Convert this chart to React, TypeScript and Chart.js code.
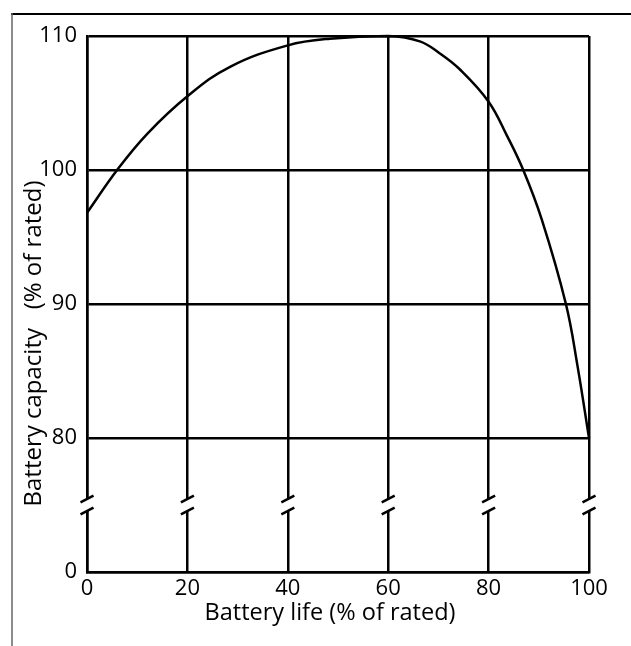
import React, { useEffect, useRef } from "react";
import { Chart, registerables } from "chart.js";

Chart.register(...registerables);

const lifePct = [0, 6, 12, 20, 28.5, 40, 48.4, 60, 66.3, 70.3, 74.3, 80, 83.6, 86.9, 90.6, 95.4, 97.7, 100];
const capacityPct = [96.8, 100, 102.7, 105.5, 107.7, 109.3, 109.8, 110, 109.6, 108.7, 107.5, 105.1, 102.6, 100, 96.3, 90, 85.4, 80];
const xTicks = [0, 20, 40, 60, 80, 100];
const yTicks = [70, 80, 90, 100, 110];
const yTickLabels = ["0", "80", "90", "100", "110"];
const breakValue = 75;
const xTitle = "Battery life (% of rated)";
const yTitle = "Battery capacity   (% of rated)";

const FONT = '"Open Sans", "Noto Sans", sans-serif';

const decorPlugin = {
  id: "decor",
  beforeDraw(chart: any) {
    const ctx = chart.ctx;
    ctx.save();
    ctx.strokeStyle = "#000";
    ctx.lineWidth = 2;
    ctx.beginPath();
    ctx.moveTo(11, 14);
    ctx.lineTo(631, 14);
    ctx.stroke();
    ctx.strokeStyle = "#666";
    ctx.lineWidth = 1.5;
    ctx.beginPath();
    ctx.moveTo(12, 13);
    ctx.lineTo(12, 646);
    ctx.stroke();
    ctx.restore();
  },
  afterDraw(chart: any) {
    const ctx = chart.ctx;
    const xs = chart.scales.x;
    const ys = chart.scales.y;
    const yc = ys.getPixelForValue(breakValue);
    ctx.save();
    for (const v of xTicks) {
      const px = xs.getPixelForValue(v);
      ctx.fillStyle = "#fff";
      ctx.fillRect(px - 2.5, yc - 6, 5, 12);
      ctx.strokeStyle = "#000";
      ctx.lineWidth = 2.5;
      ctx.lineCap = "butt";
      for (const off of [-6, 6]) {
        ctx.beginPath();
        ctx.moveTo(px - 6.5, yc + off + 3.4);
        ctx.lineTo(px + 6.5, yc + off - 3.4);
        ctx.stroke();
      }
    }
    ctx.fillStyle = "#000";
    ctx.textAlign = "center";
    ctx.textBaseline = "alphabetic";
    ctx.font = "23.5px " + FONT;
    ctx.fillText(xTitle, 330, 620);
    ctx.font = "24px " + FONT;
    ctx.translate(41, 343.5);
    ctx.rotate(-Math.PI / 2);
    ctx.fillText(yTitle, 0, 0);
    ctx.restore();
  },
};

export default function App() {
  const ref = useRef<HTMLCanvasElement>(null);
  useEffect(() => {
    if (!ref.current) return;
    const chart = new Chart(ref.current, {
      type: "line",
      data: {
        datasets: [
          {
            data: lifePct.map((x, i) => ({ x, y: capacityPct[i] })),
            borderColor: "#000",
            borderWidth: 2.5,
            pointRadius: 0,
            fill: false,
            tension: 0.4,
            clip: false as any,
          },
        ],
      },
      options: {
        responsive: false,
        animation: false,
        layout: { padding: { left: 0, top: 36, right: 42, bottom: 0 } },
        plugins: { legend: { display: false }, tooltip: { enabled: false } },
        scales: {
          x: {
            type: "linear",
            min: 0,
            max: 100,
            afterBuildTicks: (s: any) => {
              s.ticks = xTicks.map((v) => ({ value: v }));
            },
            afterFit: (s: any) => {
              s.height = 74;
            },
            ticks: {
              color: "#000",
              font: { family: FONT, size: 22 },
              padding: 4,
              maxRotation: 0,
              callback: (v: any) => String(v),
            },
            grid: { color: "#000", lineWidth: 2.5, drawTicks: false },
            border: { color: "#000", width: 2.5 },
          },
          y: {
            type: "linear",
            min: 70,
            max: 110,
            afterBuildTicks: (s: any) => {
              s.ticks = yTicks.map((v) => ({ value: v }));
            },
            afterFit: (s: any) => {
              s.width = 87;
            },
            ticks: {
              color: "#000",
              font: { family: FONT, size: 22 },
              padding: 10,
              callback: (v: any) => {
                const i = yTicks.indexOf(Number(v));
                return i >= 0 ? yTickLabels[i] : "";
              },
            },
            grid: { color: "#000", lineWidth: 2.5, drawTicks: false },
            border: { color: "#000", width: 2.5 },
          },
        },
      },
      plugins: [decorPlugin],
    });
    return () => chart.destroy();
  }, []);
  return (
    <canvas
      ref={ref}
      width={631}
      height={646}
      style={{ position: "absolute", left: 0, top: 0, display: "block", background: "#fff" }}
    />
  );
}
